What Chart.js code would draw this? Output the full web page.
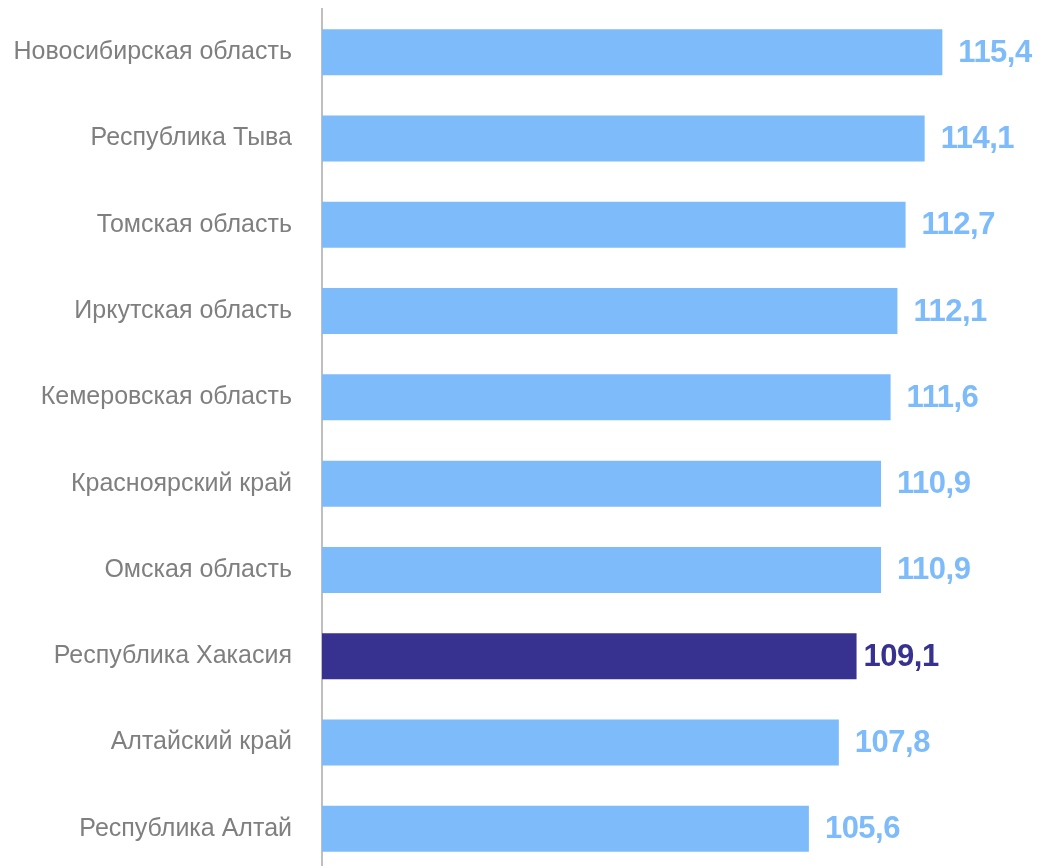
<!DOCTYPE html>
<html>
<head>
<meta charset="utf-8">
<script src="https://cdn.jsdelivr.net/npm/chart.js@4"></script>
<style>
    html, body { margin: 0; padding: 0; background: #fff; overflow: hidden; }
    #wrap { width: 1043px; height: 874px; position: relative; }
</style>
</head>
<body>
<div id="wrap"><canvas id="myChart"></canvas></div>
<script>
// regions, top to bottom
var regions = [
    'Новосибирская область',
    'Республика Тыва',
    'Томская область',
    'Иркутская область',
    'Кемеровская область',
    'Красноярский край',
    'Омская область',
    'Республика Хакасия',
    'Алтайский край',
    'Республика Алтай'
];
var values = [115.4, 114.1, 112.7, 112.1, 111.6, 110.9, 110.9, 109.1, 107.8, 105.6];
var highlightRegion = 'Республика Хакасия';

var lightBlue = '#7EBBFB';
var darkBlue = '#37318F';

// 115.4 => "115,4"
function formatValue(v) {
    return v.toFixed(1).replace('.', ',');
}

var barColors = regions.map((r) => r === highlightRegion ? darkBlue : lightBlue);

// draw value labels at the end of each bar
var valueLabels = {
    id: 'valueLabels',
    afterDatasetsDraw(chart) {
        var ctx = chart.ctx;
        var meta = chart.getDatasetMeta(0);
        ctx.save();
        ctx.font = 'bold 31px "Liberation Sans", Arial, sans-serif';
        ctx.letterSpacing = '-0.5px';
        ctx.textAlign = 'left';
        ctx.textBaseline = 'middle';
        meta.data.forEach((bar, i) => {
            var isHl = regions[i] === highlightRegion;
            ctx.fillStyle = barColors[i];
            ctx.fillText(formatValue(values[i]), bar.x + (isHl ? 7 : 16), bar.y + 1);
        });
        ctx.restore();
    }
};

var ctx = document.getElementById('myChart').getContext('2d');
var myChart = new Chart(ctx, {
    type: 'bar',
    data: {
        labels: regions,
        datasets: [{
            data: values,
            backgroundColor: barColors,
            borderWidth: 0,
            barPercentage: 0.533,
            categoryPercentage: 1
        }]
    },
    options: {
        indexAxis: 'y',
        responsive: true,
        maintainAspectRatio: false,
        animation: false,
        layout: { padding: { top: 9, bottom: 2, right: 38, left: 0 } },
        plugins: {
            legend: { display: false },
            tooltip: { enabled: false }
        },
        scales: {
            x: {
                display: false,
                min: 69.85,
                max: 120
            },
            y: {
                grid: { display: false, drawTicks: false },
                border: { display: true, color: '#BFBFBF', width: 2 },
                ticks: {
                    color: '#7F7F7F',
                    padding: 30,
                    font: { family: '"Liberation Sans", Arial, sans-serif', size: 25 }
                },
                afterFit(scale) {
                    scale.width = 322;
                    scale.paddingTop = 0;
                    scale.paddingBottom = 0;
                }
            }
        }
    },
    plugins: [valueLabels]
});
</script>
</body>
</html>
